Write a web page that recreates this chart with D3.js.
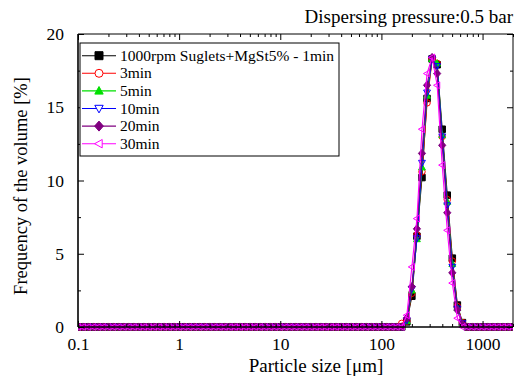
<!DOCTYPE html>
<html><head><meta charset="utf-8">
<script src="https://cdn.jsdelivr.net/npm/d3@7"></script>
<style>body{margin:0;background:#fff}svg{display:block}svg text{font-family:"Liberation Serif","DejaVu Serif",serif !important}</style>
</head><body>
<svg id="c" width="518" height="379"></svg>
<script>
// Particle size bins [µm]
const sizes = [0.1,0.112,0.126,0.142,0.159,0.178,0.2,0.224,0.252,0.283,0.317,0.356,0.399,0.448,0.502,0.564,0.632,0.71,0.796,0.893,
  1.002,1.125,1.262,1.416,1.589,1.783,2,2.244,2.518,2.825,3.17,3.557,3.991,4.477,5.024,5.637,6.325,7.096,7.962,8.934,
  10.024,11.247,12.619,14.159,15.887,17.825,20,22.44,25.179,28.251,31.698,35.566,39.905,44.774,50.238,56.368,63.246,70.963,79.621,89.337,
  100.237,112.468,126.191,141.589,158.866,178.25,200,224.404,251.785,282.508,316.979,355.656,399.052,447.744,502.377,563.677,632.456,709.627,796.214,893.367,
  1002.374,1124.683,1261.915,1415.892,1588.656,1782.502,2000];
// Frequency of the volume [%]
const min1  = [0,0,0,0,0,0,0,0,0,0,0,0,0,0,0,0,0,0,0,0, 0,0,0,0,0,0,0,0,0,0,0,0,0,0,0,0,0,0,0,0, 0,0,0,0,0,0,0,0,0,0,0,0,0,0,0,0,0,0,0,0,
  0,0,0,0,0,0.35,2.1,6.2,10.2,15.6,18.3,17.9,13.5,9.0,4.7,1.5,0.3,0,0,0, 0,0,0,0,0,0,0];
const min3  = [0,0,0,0,0,0,0,0,0,0,0,0,0,0,0,0,0,0,0,0, 0,0,0,0,0,0,0,0,0,0,0,0,0,0,0,0,0,0,0,0, 0,0,0,0,0,0,0,0,0,0,0,0,0,0,0,0,0,0,0,0,
  0,0,0,0,0.25,0.4,2.3,6.3,10.6,15.3,18.3,18.0,13.0,8.7,4.5,1.4,0.3,0,0,0, 0,0,0,0,0,0,0];
const min5  = [0,0,0,0,0,0,0,0,0,0,0,0,0,0,0,0,0,0,0,0, 0,0,0,0,0,0,0,0,0,0,0,0,0,0,0,0,0,0,0,0, 0,0,0,0,0,0,0,0,0,0,0,0,0,0,0,0,0,0,0,0,
  0,0,0,0,0,0.4,2.5,6.0,10.9,15.8,18.3,18.0,13.1,8.55,4.3,1.3,0.25,0,0,0, 0,0,0,0,0,0,0];
const min10 = [0,0,0,0,0,0,0,0,0,0,0,0,0,0,0,0,0,0,0,0, 0,0,0,0,0,0,0,0,0,0,0,0,0,0,0,0,0,0,0,0, 0,0,0,0,0,0,0,0,0,0,0,0,0,0,0,0,0,0,0,0,
  0,0,0,0,0,0.45,2.6,6.05,11.2,16.0,18.3,17.8,13.0,8.3,4.1,1.25,0.25,0,0,0, 0,0,0,0,0,0,0];
const min20 = [0,0,0,0,0,0,0,0,0,0,0,0,0,0,0,0,0,0,0,0, 0,0,0,0,0,0,0,0,0,0,0,0,0,0,0,0,0,0,0,0, 0,0,0,0,0,0,0,0,0,0,0,0,0,0,0,0,0,0,0,0,
  0,0,0,0,0,0.6,2.75,6.7,11.85,16.5,18.4,17.3,12.4,7.8,3.7,1.16,0.2,0,0,0, 0,0,0,0,0,0,0];
const min30 = [0,0,0,0,0,0,0,0,0,0,0,0,0,0,0,0,0,0,0,0, 0,0,0,0,0,0,0,0,0,0,0,0,0,0,0,0,0,0,0,0, 0,0,0,0,0,0,0,0,0,0,0,0,0,0,0,0,0,0,0,0,
  0,0,0,0,0,0.8,4.1,7.4,13.5,17.3,18.4,16.5,11.05,6.6,3.0,0.6,0,0,0,0, 0,0,0,0,0,0,0];
const seriesNames = ["1000rpm Suglets+MgSt5% - 1min","3min","5min","10min","20min","30min"];
const xTicks = [0.1,1,10,100,1000];
const xTickLabels = ["0.1","1","10","100","1000"];
const yTicks = [0,5,10,15,20];

const colors = ["#000000","#ff0000","#00e000","#0000ff","#800080","#ff00ff"];
const symbols = ["square","circle","triUp","triDown","diamond","triLeft"];
const filled = [true,false,true,false,true,false];
const seriesVals = [min1,min3,min5,min10,min20,min30];

const FONT = '"Liberation Serif","DejaVu Serif",serif';
const svg = d3.select("#c");
const L=78,R=513,T=34,B=327;
const x = d3.scaleLog().domain([0.1,2000]).range([L,R]);
const y = d3.scaleLinear().domain([0,20]).range([B,T]);

svg.append("defs").append("clipPath").attr("id","clip").append("rect")
  .attr("x",L).attr("y",T-10).attr("width",R-L).attr("height",B-T+14);

function markerPath(sym, s){
  const h=s/2;
  switch(sym){
    case "square": return `M${-h},${-h}H${h}V${h}H${-h}Z`;
    case "circle": return `M${h},0A${h},${h} 0 1,1 ${-h},0A${h},${h} 0 1,1 ${h},0Z`;
    case "triUp": return `M0,${-h*1.1}L${h*1.05},${h*0.8}L${-h*1.05},${h*0.8}Z`;
    case "triDown": return `M0,${h*1.1}L${h*1.05},${-h*0.8}L${-h*1.05},${-h*0.8}Z`;
    case "diamond": return `M0,${-h*1.25}L${h*1.1},0L0,${h*1.25}L${-h*1.1},0Z`;
    case "triLeft": return `M${-h*1.1},0L${h*0.8},${-h*1.05}L${h*0.8},${h*1.05}Z`;
  }
}

const plot = svg.append("g").attr("clip-path","url(#clip)");
const line = d3.line().x((d,i)=>x(sizes[i])).y(d=>y(d));
seriesVals.forEach((vals,k)=>{
  const g = plot.append("g");
  g.append("path").datum(vals).attr("d",line).attr("fill","none")
    .attr("stroke",colors[k]).attr("stroke-width",1.1);
  g.selectAll("path.m").data(vals).join("path").attr("class","m")
    .attr("transform",(d,i)=>`translate(${x(sizes[i])},${y(d)})`)
    .attr("d",markerPath(symbols[k],6.5))
    .attr("fill",filled[k]?colors[k]:"none")
    .attr("stroke",colors[k]).attr("stroke-width",1);
});

// Axes
const minorX = [];
[0.1,1,10,100,1000].forEach(d=>{for(let m=2;m<=9;m++){const v=d*m; if(v<=2000) minorX.push(v);}});
const minorY = [2.5,7.5,12.5,17.5];

function styleAxis(g){g.attr("font-family",FONT); g.select(".domain").remove(); g.selectAll("line").attr("stroke","#000").attr("stroke-width",1);}
function styleText(g){g.selectAll("text").attr("font-size",17.5).attr("fill","#000").style("font-family",FONT);}

svg.append("g").attr("transform",`translate(0,${B})`)
  .call(d3.axisBottom(x).tickValues(xTicks).tickFormat((d,i)=>xTickLabels[i]).tickSizeInner(-6).tickPadding(11))
  .call(styleAxis).call(styleText);
svg.append("g").attr("transform",`translate(0,${B})`)
  .call(d3.axisBottom(x).tickValues(minorX).tickFormat("").tickSizeInner(-3)).call(styleAxis);
svg.append("g").attr("transform",`translate(0,${T})`)
  .call(d3.axisTop(x).tickValues(xTicks).tickFormat("").tickSizeInner(-6)).call(styleAxis);
svg.append("g").attr("transform",`translate(0,${T})`)
  .call(d3.axisTop(x).tickValues(minorX).tickFormat("").tickSizeInner(-3)).call(styleAxis);

svg.append("g").attr("transform",`translate(${L},0)`)
  .call(d3.axisLeft(y).tickValues(yTicks).tickSizeInner(-6).tickPadding(14))
  .call(styleAxis).call(styleText);
svg.append("g").attr("transform",`translate(${L},0)`)
  .call(d3.axisLeft(y).tickValues(minorY).tickFormat("").tickSizeInner(-3)).call(styleAxis);
svg.append("g").attr("transform",`translate(${R},0)`)
  .call(d3.axisRight(y).tickValues(yTicks).tickFormat("").tickSizeInner(-6)).call(styleAxis);
svg.append("g").attr("transform",`translate(${R},0)`)
  .call(d3.axisRight(y).tickValues(minorY).tickFormat("").tickSizeInner(-3)).call(styleAxis);

// frame
svg.append("line").attr("x1",L).attr("x2",R).attr("y1",T).attr("y2",T).attr("stroke","#000").attr("stroke-width",1);
svg.append("line").attr("x1",R).attr("x2",R).attr("y1",T).attr("y2",B).attr("stroke","#000").attr("stroke-width",1);
svg.append("line").attr("x1",L).attr("x2",R).attr("y1",B).attr("y2",B).attr("stroke","#000").attr("stroke-width",1.6);
svg.append("line").attr("x1",L).attr("x2",L).attr("y1",T).attr("y2",B).attr("stroke","#000").attr("stroke-width",1.6);

// titles
function txt(){return svg.append("text").style("font-family",FONT).attr("fill","#000");}
txt().attr("x",R).attr("y",23).attr("text-anchor","end").attr("font-size",19).text("Dispersing pressure:0.5 bar");
txt().attr("x",316).attr("y",372).attr("text-anchor","middle").attr("font-size",19).text("Particle size [\u03bcm]");
txt().attr("transform",`translate(27,186) rotate(-90)`).attr("text-anchor","middle").attr("font-size",18.5).text("Frequency of the volume [%]");

// legend
const lg = svg.append("g");
lg.append("rect").attr("x",80).attr("y",43).attr("width",259).attr("height",113).attr("fill","#fff").attr("stroke","#000").attr("stroke-width",1);
seriesNames.forEach((nm,k)=>{
  const cy = 55.7 + k*17.6;
  lg.append("line").attr("x1",82).attr("x2",116).attr("y1",cy).attr("y2",cy).attr("stroke",colors[k]).attr("stroke-width",1.1);
  lg.append("path").attr("transform",`translate(99,${cy})`).attr("d",markerPath(symbols[k],8))
    .attr("fill",filled[k]?colors[k]:"#fff").attr("stroke",colors[k]).attr("stroke-width",1);
  lg.append("text").style("font-family",FONT).attr("x",120).attr("y",cy+5).attr("font-size",15.5).text(nm);
});
</script>
</body></html>
